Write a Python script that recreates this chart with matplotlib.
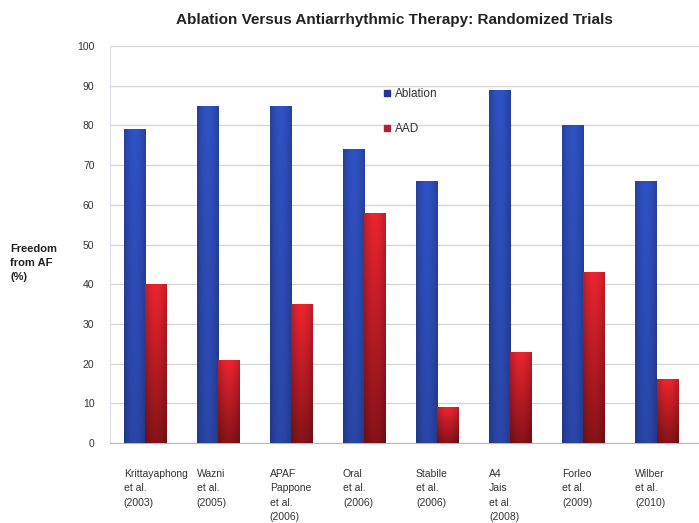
import matplotlib
matplotlib.use("Agg")
import matplotlib.pyplot as plt
import numpy as np
from matplotlib.lines import Line2D
from matplotlib.colors import to_rgb
from matplotlib.patches import Rectangle

plt.rcParams['font.family'] = ['Liberation Sans', 'DejaVu Sans']

categories = ["Krittayaphong\net al.\n(2003)", "Wazni\net al.\n(2005)", "APAF\nPappone\net al.\n(2006)",
              "Oral\net al.\n(2006)", "Stabile\net al.\n(2006)", "A4\nJais\net al.\n(2008)",
              "Forleo\net al.\n(2009)", "Wilber\net al.\n(2010)"]
ablation = [79, 85, 85, 74, 66, 89, 80, 66]
aad = [40, 21, 35, 58, 9, 23, 43, 16]
yticks = list(range(0, 101, 10))

fig = plt.figure(figsize=(6.99, 5.23), dpi=100)
ax = fig.add_axes([0.157, 0.153, 0.843, 0.759])
x = np.arange(len(categories))
w = 0.29
b1 = ax.bar(x - w/2, ablation, w, color="#2a49ad", zorder=3)
b2 = ax.bar(x + w/2, aad, w, color="#b5121f", zorder=3)


def shade(top, bottom, n=128):
    t = np.linspace(0, 1, n).reshape(-1, 1, 1)  # 0 bottom -> 1 top
    top = np.array(to_rgb(top)).reshape(1, 1, 3)
    bottom = np.array(to_rgb(bottom)).reshape(1, 1, 3)
    col = bottom + (top - bottom) * t
    u = np.linspace(0, 1, 32)
    h = (0.80 + 0.20 * np.sin(np.pi * u)).reshape(1, -1, 1)
    return np.clip(col * h, 0, 1)


img_red = shade("#ee2430", "#861318")
img_blue = shade("#2f52c4", "#2a46a8")
for bars, img in ((b1, img_blue), (b2, img_red)):
    for rect in bars:
        x0, y0 = rect.get_x(), rect.get_y()
        ww, hh = rect.get_width(), rect.get_height()
        im = ax.imshow(img, aspect="auto", origin="lower",
                       extent=[x0, x0 + ww, y0, y0 + hh], zorder=4, interpolation="bilinear")
        im.set_clip_path(rect)

ax.set_xlim(-0.48, 7.58)
ax.set_ylim(0, 100)
ax.set_yticks(yticks)
ax.set_yticklabels([str(t) for t in yticks], fontsize=7.5, color="#333333")
ax.tick_params(axis="y", length=0, pad=11)
ax.set_xticks([])
ax.grid(axis="y", color="#d4d4d4", linewidth=0.9, zorder=0)
for s in ["top", "right"]:
    ax.spines[s].set_visible(False)
ax.spines["left"].set_color("#dcdce8")
ax.spines["bottom"].set_color("#b8b8b8")

for i, lab in enumerate(categories):
    ax.text(i - w, -6.5, lab, ha="left", va="top", fontsize=7.5, color="#333333",
            linespacing=1.55)

fig.text(0.565, 0.962, "Ablation Versus Antiarrhythmic Therapy: Randomized Trials",
         ha="center", va="center", fontsize=11, fontweight="bold", color="#222222")
fig.text(0.015, 0.497, "Freedom\nfrom AF\n(%)", ha="left", va="center", fontsize=8,
         fontweight="bold", color="#222222", linespacing=1.45)

# white background behind legend (covers gridlines)
ax.add_patch(Rectangle((0.43, 0.776), 0.16, 0.15, transform=ax.transAxes,
                       facecolor="white", edgecolor="none", zorder=1))

handles = [Line2D([], [], marker="s", linestyle="", color="#2b2f9a", markersize=4),
           Line2D([], [], marker="s", linestyle="", color="#b0203c", markersize=4)]
leg = ax.legend(handles, ["Ablation", "AAD"], loc="upper left", bbox_to_anchor=(0.44, 0.93),
                frameon=False, fontsize=8.5, labelspacing=1.97, handlelength=0.6,
                handletextpad=0.4, borderpad=1.2, borderaxespad=0)
leg.set_zorder(2)
for t in leg.get_texts():
    t.set_color("#333333")

fig.savefig("out.png", dpi=100)
